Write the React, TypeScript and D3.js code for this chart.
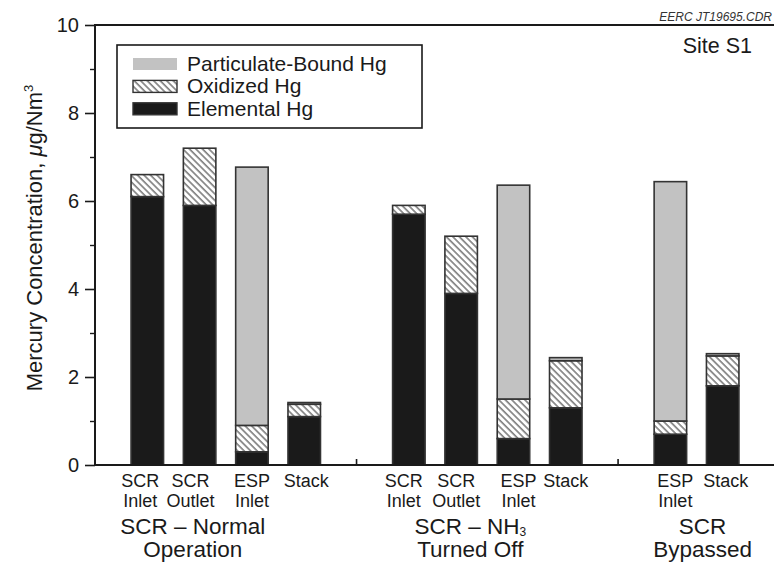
import React, { useEffect, useRef } from 'react';
import * as d3 from 'd3';

// bar categories, in drawing order, and the group each belongs to
const barTop = ['SCR', 'SCR', 'ESP', 'Stack', 'SCR', 'SCR', 'ESP', 'Stack', 'ESP', 'Stack'];
const barBottom = ['Inlet', 'Outlet', 'Inlet', '', 'Inlet', 'Outlet', 'Inlet', '', 'Inlet', ''];
const barGroup = [0, 0, 0, 0, 1, 1, 1, 1, 2, 2];

// Hg species, µg/Nm3
const elemental = [6.1, 5.9, 0.3, 1.1, 5.7, 3.9, 0.6, 1.3, 0.7, 1.8];
const oxidized = [0.5, 1.3, 0.6, 0.28, 0.2, 1.3, 0.9, 1.07, 0.3, 0.68];
const particulate = [0, 0, 5.87, 0.04, 0, 0, 4.86, 0.07, 5.44, 0.05];

const groupLine1 = ['SCR – Normal', 'SCR – NH', 'SCR'];
const groupLine2 = ['Operation', 'Turned Off', 'Bypassed'];

const yTicks = [0, 2, 4, 6, 8, 10];
const yMinor = [1, 3, 5, 7, 9];

const legendNames = ['Particulate-Bound Hg', 'Oxidized Hg', 'Elemental Hg'];

const W = 774;
const H = 563;
const FONT = '"Liberation Sans", Arial, Helvetica, sans-serif';
const INK = '#1a1a1a';
const EDGE = '#333';
const GRAY = '#c2c2c2';

// small hand placement of the labels seen in the figure
const barLabelShift = [-7, -9, 0, 2, -5, -5, 5, 0, 5, 3];
const groupLabelShift = [-33, -17, 6];

const App = () => {
  const ref = useRef<SVGSVGElement>(null);

  useEffect(() => {
    const svg = d3.select(ref.current);
    svg.selectAll('*').remove();

    const plot = { left: 95, top: 25, bottom: 465 };

    // slot of each bar: groups separated by one empty slot
    const slots: number[] = [];
    let s = 0;
    barGroup.forEach((g, i) => {
      if (i > 0 && g !== barGroup[i - 1]) s += 1;
      s += 1;
      slots.push(s);
    });
    const nSlots = s + 1;
    const gapSlots = d3.range(1, barGroup.length).filter(i => barGroup[i] !== barGroup[i - 1]).map(i => slots[i] - 1);

    const x = d3.scaleLinear().domain([0, nSlots]).range([plot.left, 775]);
    const y = d3.scaleLinear().domain([0, 10]).range([plot.bottom, plot.top]);
    const barW = 32.5;

    const defs = svg.append('defs');
    const pat = defs.append('pattern')
      .attr('id', 'hatch')
      .attr('patternUnits', 'userSpaceOnUse')
      .attr('width', 4.6)
      .attr('height', 4.6)
      .attr('patternTransform', 'rotate(-45)');
    pat.append('rect').attr('width', 4.6).attr('height', 4.6).attr('fill', '#fff');
    pat.append('line')
      .attr('x1', 1).attr('y1', 0).attr('x2', 1).attr('y2', 4.6)
      .attr('stroke', '#6a6a6a').attr('stroke-width', 1.4);

    // stacked bars
    const layers = [
      { vals: elemental, fill: INK },
      { vals: oxidized, fill: 'url(#hatch)' },
      { vals: particulate, fill: GRAY }
    ];
    const base = elemental.map(() => 0);
    layers.forEach(layer => {
      const g = svg.append('g');
      layer.vals.forEach((v, i) => {
        const y0 = base[i];
        const y1 = y0 + v;
        base[i] = y1;
        if (v <= 0) return;
        g.append('rect')
          .attr('x', x(slots[i]) - barW / 2)
          .attr('y', y(y1))
          .attr('width', barW)
          .attr('height', y(y0) - y(y1))
          .attr('fill', layer.fill)
          .attr('stroke', EDGE)
          .attr('stroke-width', 1.6);
      });
    });

    // frame
    svg.append('path')
      .attr('d', `M${W},${plot.top}H${plot.left}V${plot.bottom}H${W}`)
      .attr('fill', 'none')
      .attr('stroke', INK)
      .attr('stroke-width', 2);

    // y axis
    const yAxis = svg.append('g')
      .attr('transform', `translate(${plot.left},0)`)
      .call(d3.axisLeft(y).tickValues(yTicks).tickSize(10).tickPadding(6).tickFormat(d3.format('d')));
    yAxis.select('.domain').remove();
    yAxis.selectAll('line').attr('stroke', INK).attr('stroke-width', 1.6);
    yAxis.selectAll('text')
      .attr('font-family', FONT)
      .attr('font-size', 20)
      .attr('fill', INK);

    const yMinorAxis = svg.append('g')
      .attr('transform', `translate(${plot.left},0)`)
      .call(d3.axisLeft(y).tickValues(yMinor).tickSize(5).tickFormat(() => ''));
    yMinorAxis.select('.domain').remove();
    yMinorAxis.selectAll('line').attr('stroke', INK).attr('stroke-width', 1.4);

    // small ticks between groups
    svg.append('g').selectAll('line')
      .data(gapSlots)
      .enter()
      .append('line')
      .attr('x1', d => x(d)).attr('x2', d => x(d))
      .attr('y1', plot.bottom).attr('y2', plot.bottom - 6)
      .attr('stroke', INK).attr('stroke-width', 1.6);

    // bar labels
    const lab = svg.append('g')
      .attr('font-family', FONT)
      .attr('font-size', 18)
      .attr('fill', INK)
      .attr('text-anchor', 'middle');
    barTop.forEach((t, i) => {
      lab.append('text').attr('x', x(slots[i]) + barLabelShift[i]).attr('y', 487).text(t);
      if (barBottom[i]) lab.append('text').attr('x', x(slots[i]) + barLabelShift[i]).attr('y', 507).text(barBottom[i]);
    });

    // group labels
    const grp = svg.append('g')
      .attr('font-family', FONT)
      .attr('font-size', 22.5)
      .attr('fill', INK)
      .attr('text-anchor', 'middle');
    groupLine1.forEach((t, gi) => {
      const idx = d3.range(barGroup.length).filter(i => barGroup[i] === gi);
      const cx = (x(slots[idx[0]]) + x(slots[idx[idx.length - 1]])) / 2 + groupLabelShift[gi];
      const t1 = grp.append('text').attr('x', cx).attr('y', 534);
      t1.append('tspan').text(t);
      if (gi === 1) {
        t1.append('tspan').attr('font-size', 12).attr('dy', 2).text('3');
      }
      grp.append('text').attr('x', cx).attr('y', 557).text(groupLine2[gi]);
    });

    // y title
    const title = svg.append('text')
      .attr('transform', 'translate(42,238) rotate(-90)')
      .attr('text-anchor', 'middle')
      .attr('font-family', FONT)
      .attr('font-size', 22)
      .attr('fill', INK);
    title.append('tspan').text('Mercury Concentration, ');
    title.append('tspan').attr('font-style', 'italic').text('μ');
    title.append('tspan').text('g/Nm');
    title.append('tspan').attr('font-size', 13).attr('dy', -9).text('3');

    // legend
    const leg = svg.append('g');
    leg.append('rect')
      .attr('x', 117).attr('y', 45).attr('width', 305).attr('height', 83)
      .attr('fill', '#fff').attr('stroke', INK).attr('stroke-width', 1.6);
    const legFill = [GRAY, 'url(#hatch)', INK];
    legendNames.forEach((name, i) => {
      const ly = 58 + i * 22.4;
      leg.append('rect')
        .attr('x', 133).attr('y', ly).attr('width', 44).attr('height', 12)
        .attr('fill', legFill[i])
        .attr('stroke', i === 0 ? 'none' : EDGE)
        .attr('stroke-width', 1.4);
      leg.append('text')
        .attr('x', 187).attr('y', ly + 13)
        .attr('font-family', FONT).attr('font-size', 21).attr('fill', INK)
        .text(name);
    });

    svg.append('text')
      .attr('x', 752).attr('y', 53)
      .attr('text-anchor', 'end')
      .attr('font-family', FONT).attr('font-size', 21.5).attr('fill', INK)
      .text('Site S1');

    svg.append('text')
      .attr('x', 772).attr('y', 21)
      .attr('text-anchor', 'end')
      .attr('font-family', FONT).attr('font-size', 12).attr('font-style', 'italic').attr('fill', '#333')
      .text('EERC JT19695.CDR');
  }, []);

  return (
    <svg
      ref={ref}
      width={W}
      height={H}
      style={{ position: 'absolute', left: 0, top: 0, background: '#fff' }}
    />
  );
};

export default App;
